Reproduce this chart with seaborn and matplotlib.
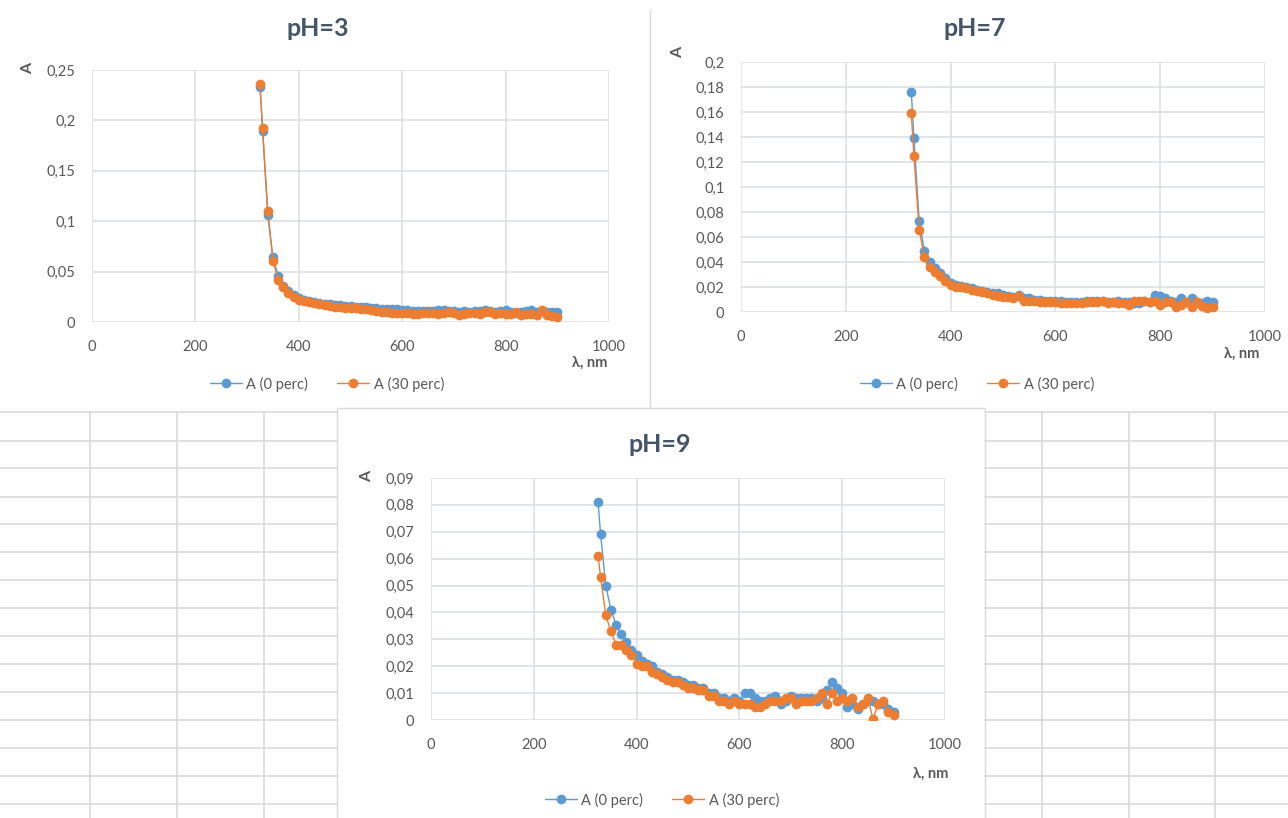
import numpy as np
import pandas as pd
import matplotlib
matplotlib.use("Agg")
import matplotlib.pyplot as plt
import seaborn as sns
from matplotlib.lines import Line2D
from matplotlib.ticker import FixedLocator, FuncFormatter

# ---------------- data ----------------
wavelength = [325] + list(range(330, 901, 10))

ph3_a0 = [0.233, 0.189, 0.106, 0.064, 0.046, 0.036, 0.031, 0.027, 0.024, 0.022,
          0.021, 0.020, 0.019, 0.018, 0.018, 0.017, 0.017, 0.016, 0.016, 0.015,
          0.015, 0.015, 0.014, 0.014, 0.013, 0.013, 0.013, 0.013, 0.012, 0.012,
          0.011, 0.011, 0.011, 0.011, 0.011, 0.012, 0.012, 0.011, 0.011, 0.010,
          0.011, 0.010, 0.011, 0.011, 0.012, 0.011, 0.010, 0.011, 0.012, 0.010,
          0.009, 0.010, 0.011, 0.012, 0.010, 0.011, 0.010, 0.010, 0.010]
ph3_a30 = [0.236, 0.192, 0.110, 0.061, 0.042, 0.035, 0.029, 0.025, 0.022, 0.021,
           0.020, 0.019, 0.018, 0.017, 0.016, 0.015, 0.015, 0.014, 0.014, 0.014,
           0.013, 0.013, 0.012, 0.011, 0.010, 0.010, 0.009, 0.009, 0.009, 0.009,
           0.008, 0.008, 0.009, 0.009, 0.009, 0.008, 0.009, 0.010, 0.009, 0.007,
           0.008, 0.009, 0.009, 0.008, 0.010, 0.010, 0.008, 0.009, 0.008, 0.008,
           0.010, 0.007, 0.008, 0.008, 0.007, 0.012, 0.007, 0.006, 0.005]

ph7_a0 = [0.176, 0.139, 0.073, 0.049, 0.040, 0.035, 0.031, 0.027, 0.023, 0.022,
          0.021, 0.020, 0.019, 0.018, 0.017, 0.016, 0.015, 0.015, 0.014, 0.013,
          0.012, 0.014, 0.011, 0.011, 0.010, 0.010, 0.009, 0.009, 0.009, 0.009,
          0.008, 0.008, 0.008, 0.008, 0.009, 0.009, 0.009, 0.009, 0.008, 0.008,
          0.009, 0.008, 0.008, 0.007, 0.007, 0.009, 0.008, 0.014, 0.013, 0.011,
          0.009, 0.008, 0.011, 0.008, 0.011, 0.008, 0.007, 0.009, 0.008]
ph7_a30 = [0.159, 0.125, 0.066, 0.044, 0.036, 0.032, 0.029, 0.025, 0.022, 0.020,
           0.020, 0.019, 0.018, 0.017, 0.016, 0.015, 0.014, 0.013, 0.012, 0.012,
           0.011, 0.013, 0.009, 0.009, 0.009, 0.008, 0.008, 0.008, 0.008, 0.007,
           0.007, 0.007, 0.007, 0.007, 0.008, 0.008, 0.008, 0.009, 0.007, 0.008,
           0.007, 0.007, 0.006, 0.009, 0.009, 0.009, 0.008, 0.009, 0.006, 0.008,
           0.008, 0.004, 0.006, 0.008, 0.004, 0.008, 0.005, 0.003, 0.004]

ph9_a0 = [0.081, 0.069, 0.050, 0.041, 0.0355, 0.032, 0.029, 0.026, 0.024, 0.022,
          0.021, 0.020, 0.018, 0.017, 0.016, 0.015, 0.015, 0.014, 0.013, 0.013,
          0.012, 0.012, 0.010, 0.010, 0.008, 0.008, 0.007, 0.008, 0.007, 0.010,
          0.010, 0.008, 0.007, 0.007, 0.008, 0.009, 0.006, 0.007, 0.009, 0.008,
          0.008, 0.008, 0.008, 0.007, 0.008, 0.011, 0.014, 0.012, 0.010, 0.005,
          0.006, 0.004, 0.006, 0.007, 0.007, 0.006, 0.006, 0.004, 0.003]
ph9_a30 = [0.061, 0.053, 0.039, 0.033, 0.028, 0.028, 0.026, 0.024, 0.021, 0.020,
           0.020, 0.018, 0.017, 0.016, 0.015, 0.014, 0.014, 0.013, 0.012, 0.012,
           0.011, 0.011, 0.009, 0.009, 0.007, 0.007, 0.006, 0.007, 0.006, 0.006,
           0.006, 0.005, 0.005, 0.006, 0.007, 0.007, 0.007, 0.008, 0.008, 0.006,
           0.007, 0.007, 0.007, 0.008, 0.010, 0.006, 0.010, 0.007, 0.008, 0.007,
           0.008, 0.005, 0.006, 0.008, 0.0003, 0.006, 0.007, 0.003, 0.002]

series_names = ["A (0 perc)", "A (30 perc)"]
titles = ["pH=3", "pH=7", "pH=9"]
x_ticks = [0, 200, 400, 600, 800, 1000]
y_ticks_ph3 = [0, 0.05, 0.10, 0.15, 0.20, 0.25]
y_ticks_ph7 = [0, 0.02, 0.04, 0.06, 0.08, 0.10, 0.12, 0.14, 0.16, 0.18, 0.20]
y_ticks_ph9 = [0, 0.01, 0.02, 0.03, 0.04, 0.05, 0.06, 0.07, 0.08, 0.09]
x_label = "λ, nm"
y_label = "A"

# ---------------- style ----------------
sns.set_theme(style="white")
plt.rcParams["font.family"] = ["Lato", "DejaVu Sans"]

W, H = 1288, 818
fig = plt.figure(figsize=(W / 100, H / 100), dpi=100)
fig.patch.set_facecolor("white")

BLUE = "#5B9BD5"
ORANGE = "#ED7D31"
TXT = "#595959"
TITLE = "#44546A"
GRID = "#DCE0E6"
MS = 7.0

# background decorations (spreadsheet grid, chart frames) in pixel space
bg = fig.add_axes([0, 0, 1, 1], zorder=0)
bg.set_xlim(0, W)
bg.set_ylim(H, 0)
bg.axis("off")
row_lines = [441, 468, 497, 524, 552, 580, 608, 636, 664, 692, 720, 748, 776, 804]
for yy in [412] + row_lines:
    bg.plot([0, 337], [yy, yy], color="#DADADA", lw=1.2)
    bg.plot([985, W], [yy, yy], color="#DADADA", lw=1.2)
for xx in [90, 177, 264]:
    bg.plot([xx, xx], [412, H], color="#DADADA", lw=1.2)
for xx in [1042, 1129, 1215]:
    bg.plot([xx, xx], [412, H], color="#DADADA", lw=1.2)
bg.plot([650, 650], [10, 408], color="#D9D9D9", lw=1.0)
bg.plot([337, 337, 985, 985], [H, 408, 408, H], color="#D9D9D9", lw=1.0)


def px_axes(x0, y0, x1, y1):
    return fig.add_axes([x0 / W, 1 - y1 / H, (x1 - x0) / W, (y1 - y0) / H], zorder=2)


def fmt(v, pos=None):
    s = f"{v:.2f}".rstrip("0").rstrip(".")
    return s.replace(".", ",")


charts = [
    dict(a0=ph3_a0, a30=ph3_a30, box=(92, 70, 609, 322), yt=y_ticks_ph3,
         title=(318, 29), ylab=(28, 68), xlab=(590, 363), leg=(327, 384)),
    dict(a0=ph7_a0, a30=ph7_a30, box=(741, 62, 1265, 312), yt=y_ticks_ph7,
         title=(975, 29), ylab=(678, 52), xlab=(1242, 354), leg=(977, 384)),
    dict(a0=ph9_a0, a30=ph9_a30, box=(431, 478, 945, 720), yt=y_ticks_ph9,
         title=(660, 445), ylab=(367, 476), xlab=(931, 774), leg=(662, 800)),
]

for title, c in zip(titles, charts):
    ax = px_axes(*c["box"])
    df = pd.DataFrame({
        "wl": wavelength * 2,
        "A": c["a0"] + c["a30"],
        "series": [series_names[0]] * len(wavelength) + [series_names[1]] * len(wavelength),
    })
    sns.lineplot(data=df, x="wl", y="A", hue="series", palette=[BLUE, ORANGE],
                 marker="o", markersize=MS, markeredgewidth=0, linewidth=1.0,
                 sort=False, ax=ax, legend=False)
    ax.set_xlim(0, 1000)
    ax.set_ylim(0, c["yt"][-1])
    ax.xaxis.set_major_locator(FixedLocator(x_ticks))
    ax.yaxis.set_major_locator(FixedLocator(c["yt"]))
    ax.xaxis.set_major_formatter(FuncFormatter(lambda v, p: f"{int(v)}"))
    ax.yaxis.set_major_formatter(FuncFormatter(fmt))
    ax.grid(True, color=GRID, lw=1.2)
    for s in ax.spines.values():
        s.set_visible(False)
    ax.tick_params(axis="both", length=0, labelsize=10.5, labelcolor=TXT)
    ax.tick_params(axis="x", pad=13)
    ax.tick_params(axis="y", pad=12)
    ax.set_xlabel("")
    ax.set_ylabel("")
    ax.set_facecolor("none")

    new_handles = [Line2D([0], [0], color=col, lw=1.0, marker="o", markersize=MS,
                          markeredgewidth=0) for col in (BLUE, ORANGE)]
    fig.legend(new_handles, series_names, loc="center",
               bbox_to_anchor=(c["leg"][0] / W, 1 - c["leg"][1] / H),
               ncol=2, frameon=False, fontsize=10.5, labelcolor=TXT,
               handlelength=2.2, handletextpad=0.3, columnspacing=2.0)

    fig.text(c["title"][0] / W, 1 - c["title"][1] / H, title, ha="center", va="center",
             fontsize=18, fontweight="bold", color=TITLE)
    fig.text(c["ylab"][0] / W, 1 - c["ylab"][1] / H, y_label, ha="center", va="center",
             rotation=90, fontsize=11.5, fontweight="bold", color=TXT)
    fig.text(c["xlab"][0] / W, 1 - c["xlab"][1] / H, x_label, ha="center", va="center",
             fontsize=10.5, fontweight="bold", color=TXT)

fig.savefig("out.png", dpi=100, facecolor="white")
